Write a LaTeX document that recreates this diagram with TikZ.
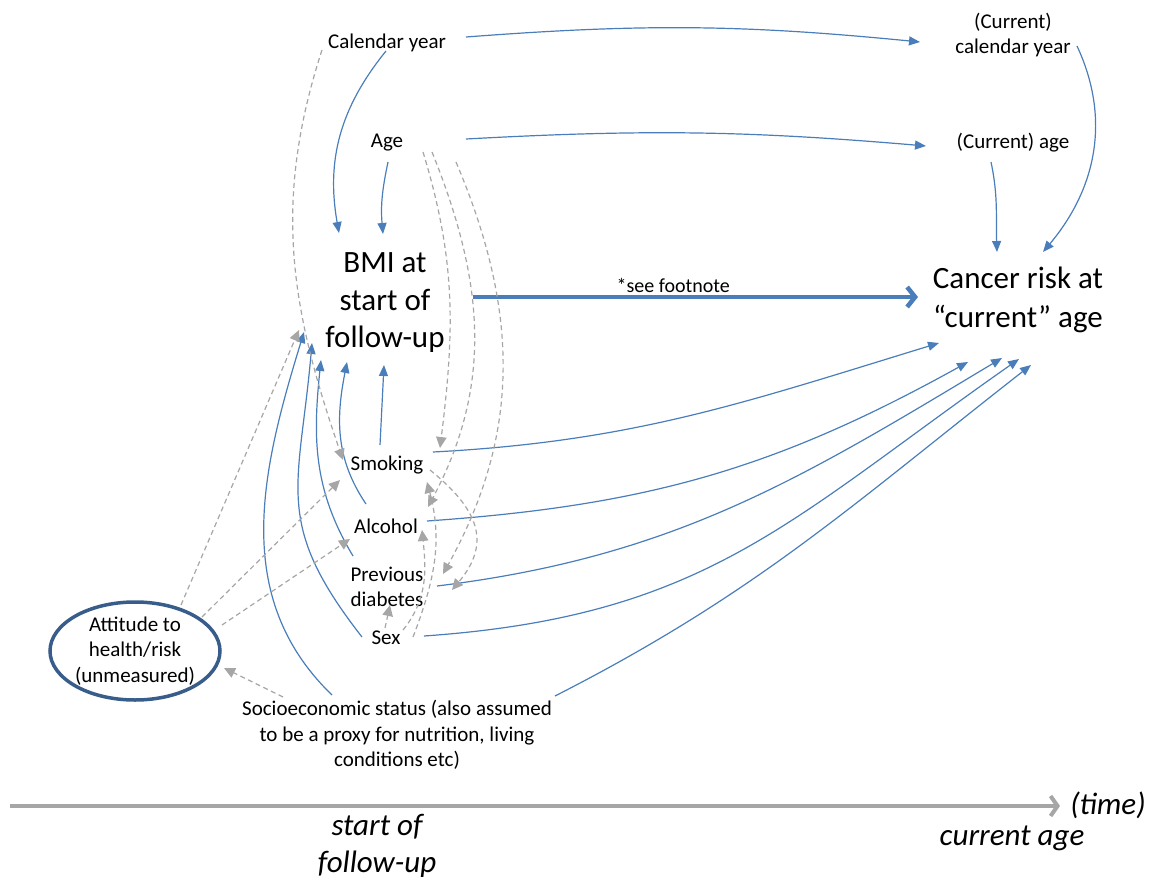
\documentclass[tikz,border=0pt]{standalone}
\usepackage{fontspec}
\setmainfont{Carlito}
\usepackage{xcolor}
\definecolor{causeblue}{HTML}{4A7EBB}
\definecolor{attblue}{HTML}{385D8A}
\definecolor{confgray}{HTML}{A6A6A6}
\usetikzlibrary{arrows.meta,shapes.geometric}

\begin{document}
\begin{tikzpicture}[x=1pt,y=1pt,
    var/.style={font=\fontsize{21}{25.5}\selectfont,align=center,inner sep=0pt},
    outcome/.style={font=\fontsize{31}{37.5}\selectfont,align=center,inner sep=0pt},
    timelbl/.style={font=\fontsize{31}{37}\selectfont\itshape,align=center,inner sep=0pt},
    cause/.style={draw=causeblue,line width=1.2pt,-{Triangle[length=11pt,width=9pt]}},
    conf/.style={draw=confgray,line width=1.2pt,dash pattern=on 5pt off 3.5pt,
                 -{Triangle[length=11pt,width=10.5pt]}}]
  \useasboundingbox (0,0) rectangle (1154,-883);

  % variables
  \node[var] (calyr) at (387,-43) {Calendar year};
  \node[var] (age) at (387,-143) {Age};
  \node[var] (curyr) at (1013,-35) {(Current)\\calendar year};
  \node[var] (curage) at (1013,-143) {(Current) age};
  \node[outcome] (bmi) at (385,-303) {BMI at\\start of\\follow-up};
  \node[outcome,font=\fontsize{31}{39}\selectfont] (cancer) at (1018,-300) {Cancer risk at\\“current” age};
  \node[var] (smoke) at (387,-465) {Smoking};
  \node[var] (alc) at (386,-526) {Alcohol};
  \node[var] (diab) at (387,-587) {Previous\\diabetes};
  \node[var] (sex) at (386,-638) {Sex};
  \node[var,ellipse,draw=attblue,line width=3.5pt,
        minimum width=170pt,minimum height=98pt] (att) at (135,-651)
        {Attitude to\\health/risk\\(unmeasured)};
  \node[var] (ses) at (397,-735)
        {Socioeconomic status (also assumed\\to be a proxy for nutrition, living\\conditions etc)};

  % exposure -> outcome
  \draw[draw=causeblue,line width=4.5pt,-{Straight Barb[length=8pt,width=20pt]}]
    ([shift={(88,6)}]bmi.center) -- ([shift={(-100,3)}]cancer.center)
    node[var,font=\fontsize{20}{24}\selectfont,above=2pt,pos=0.45] (note) {*see footnote};

  % calendar year and age
  \draw[cause] ([shift={(79,6)}]calyr.center) to[bend left=5] ([shift={(-93,-7)}]curyr.center);
  \draw[cause] ([shift={(79,4)}]age.center) to[bend left=4] ([shift={(-87,-3)}]curage.center);
  \draw[cause] ([shift={(64,-11)}]curyr.center) to[out=-65,in=50] ([shift={(25,48)}]cancer.center);
  \draw[cause] ([shift={(-22,-19)}]curage.center) to[out=-78,in=92] ([shift={(-21,48)}]cancer.center);

  % into BMI
  \draw[cause] ([shift={(-1,-8)}]calyr.center) to[out=231,in=100] ([shift={(-46,70)}]bmi.center);
  \draw[cause] ([shift={(1,-19)}]age.center) to[out=258,in=95] ([shift={(-2,69)}]bmi.center);
  \draw[cause] ([shift={(-7,20)}]smoke.center) -- ([shift={(-1,-62)}]bmi.center);
  \draw[cause] ([shift={(-20,22)}]alc.center) to[out=124,in=259] ([shift={(-38,-59)}]bmi.center);
  \draw[cause] ([shift={(-34,31)}]diab.center) to[out=121,in=264] ([shift={(-64,-57)}]bmi.center);
  \draw[cause] ([shift={(-24,1)}]sex.center) to[out=128,in=265,looseness=1.25] ([shift={(-73,-40)}]bmi.center);
  \draw[cause] ([shift={(-65,40)}]ses.center) to[out=136,in=253] ([shift={(-81,-29)}]bmi.center);

  % into cancer risk
  \draw[cause] ([shift={(46,13)}]smoke.center) to[out=3,in=197] ([shift={(-79,-43)}]cancer.center);
  \draw[cause] ([shift={(41,5)}]alc.center) to[out=4,in=209] ([shift={(-50,-62)}]cancer.center);
  \draw[cause] ([shift={(50,1)}]diab.center) to[out=7,in=211] ([shift={(-16,-58)}]cancer.center);
  \draw[cause] ([shift={(38,2)}]sex.center) to[out=4,in=215,looseness=1.1] ([shift={(1,-59)}]cancer.center);
  \draw[cause] ([shift={(158,39)}]ses.center) to[out=27,in=218] ([shift={(13,-65)}]cancer.center);

  % confounding paths
  \draw[conf] ([shift={(-65,-7)}]calyr.center) to[out=252,in=109] ([shift={(-44,5)}]smoke.center);
  \draw[conf] ([shift={(46,46)}]att.center) -- ([shift={(-86,-27)}]bmi.center);
  \draw[conf] ([shift={(67,34)}]att.center) -- ([shift={(-47,-15)}]smoke.center);
  \draw[conf] ([shift={(87,26)}]att.center) -- ([shift={(-36,-13)}]alc.center);
  \draw[conf] ([shift={(-114,38)}]ses.center) -- ([shift={(89,-17)}]att.center);
  \draw[conf] ([shift={(36,-9)}]age.center) to[out=-73,in=83] ([shift={(53,17)}]smoke.center);
  \draw[conf] ([shift={(45,-9)}]age.center) to[out=-68,in=62] ([shift={(42,19)}]alc.center);
  \draw[conf] ([shift={(69,-19)}]age.center) to[out=-67,in=61] ([shift={(56,13)}]diab.center);
  \draw[conf] ([shift={(43,-5)}]smoke.center) to[out=-39,in=50,looseness=1.3] ([shift={(65,-3)}]diab.center);
  \draw[conf] ([shift={(27,1)}]sex.center) to[out=69,in=285] ([shift={(40,-17)}]smoke.center);
  \draw[conf] ([shift={(17,8)}]sex.center) to[out=51,in=276] ([shift={(36,-4)}]alc.center);
  \draw[conf] ([shift={(-1,10)}]sex.center) -- ([shift={(3,-18)}]diab.center);

  % time axis
  \coordinate (t0) at (10,-806);
  \coordinate (t1) at (1060,-806);
  \draw[draw=confgray,line width=4pt,-{Straight Barb[length=7pt,width=20pt]}] (t0) -- (t1);
  \node[timelbl] (time) at (1108,-805) {(time)};
  \node[timelbl] (sfu) at (377,-846) {start of\\follow-up};
  \node[timelbl] (nowlbl) at (1012,-838) {current age};
\end{tikzpicture}
\end{document}
